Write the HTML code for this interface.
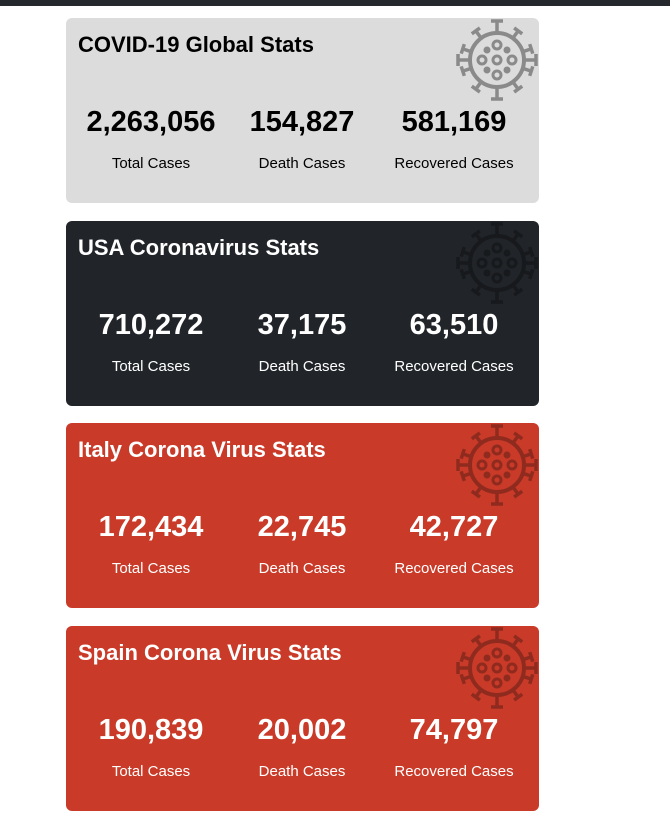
<!DOCTYPE html>
<html><head><meta charset="utf-8"><style>
body{margin:0;width:670px;height:819px;background:#fff;font-family:"Liberation Sans",sans-serif;position:relative;overflow:hidden}
.bar{position:absolute;left:0;top:0;width:670px;height:6px;background:#25282c}
.card{position:absolute;left:66px;width:473px;height:185px;border-radius:6px;overflow:hidden}
.t{position:absolute;left:12px;top:14px;font-size:22px;font-weight:bold}
.ic{position:absolute;left:388px;top:0}
.n{position:absolute;top:88px;width:160px;margin-left:-80px;text-align:center;font-size:29px;font-weight:bold}
.l{position:absolute;top:137px;width:160px;margin-left:-80px;text-align:center;font-size:15px}
</style></head><body>
<div class="bar"></div>
<svg width="0" height="0" style="position:absolute"><defs>
<g id="virus">
<circle cx="43" cy="42" r="27" fill="none" stroke-width="4"/>
<circle cx="43" cy="42" r="4" fill="none" stroke-width="3"/>
<circle cx="43" cy="27" r="4" fill="none" stroke-width="3"/>
<circle cx="43" cy="57" r="4" fill="none" stroke-width="3"/>
<circle cx="28" cy="42" r="4" fill="none" stroke-width="3"/>
<circle cx="58" cy="42" r="4" fill="none" stroke-width="3"/>
<circle cx="33" cy="32" r="3.5" stroke="none"/><circle cx="53" cy="32" r="3.5" stroke="none"/>
<circle cx="33" cy="52" r="3.5" stroke="none"/><circle cx="53" cy="52" r="3.5" stroke="none"/>
<g stroke-width="3.5">
<path d="M43 15V3M37 3H49" transform="rotate(0 43 42)"/>
<path d="M43 15V6M38 6H48" transform="rotate(36 43 42)"/>
<path d="M43 15V6M38 6H48" transform="rotate(72 43 42)"/>
<path d="M43 15V3M37 3H49" transform="rotate(90 43 42)"/>
<path d="M43 15V6M38 6H48" transform="rotate(108 43 42)"/>
<path d="M43 15V6M38 6H48" transform="rotate(144 43 42)"/>
<path d="M43 15V3M37 3H49" transform="rotate(180 43 42)"/>
<path d="M43 15V6M38 6H48" transform="rotate(216 43 42)"/>
<path d="M43 15V6M38 6H48" transform="rotate(252 43 42)"/>
<path d="M43 15V3M37 3H49" transform="rotate(270 43 42)"/>
<path d="M43 15V6M38 6H48" transform="rotate(288 43 42)"/>
<path d="M43 15V6M38 6H48" transform="rotate(324 43 42)"/>
</g></g></defs></svg>

<div class="card" style="top:18px;background:#dcdcdc;color:#000">
<svg class="ic" width="86" height="86"><use href="#virus" stroke="#8a8a8a" fill="#8a8a8a"/></svg>
<div class="t">COVID-19 Global Stats</div>
<div class="n" style="left:85px">2,263,056</div>
<div class="n" style="left:236px">154,827</div>
<div class="n" style="left:388px">581,169</div>
<div class="l" style="left:85px">Total Cases</div>
<div class="l" style="left:236px">Death Cases</div>
<div class="l" style="left:388px">Recovered Cases</div>
</div>

<div class="card" style="top:221px;background:#212529;color:#fff">
<svg class="ic" width="86" height="86"><use href="#virus" stroke="#17191c" fill="#17191c"/></svg>
<div class="t">USA Coronavirus Stats</div>
<div class="n" style="left:85px">710,272</div>
<div class="n" style="left:236px">37,175</div>
<div class="n" style="left:388px">63,510</div>
<div class="l" style="left:85px">Total Cases</div>
<div class="l" style="left:236px">Death Cases</div>
<div class="l" style="left:388px">Recovered Cases</div>
</div>

<div class="card" style="top:423px;background:#c93a28;color:#fff">
<svg class="ic" width="86" height="86"><use href="#virus" stroke="#8f2b1e" fill="#8f2b1e"/></svg>
<div class="t">Italy Corona Virus Stats</div>
<div class="n" style="left:85px">172,434</div>
<div class="n" style="left:236px">22,745</div>
<div class="n" style="left:388px">42,727</div>
<div class="l" style="left:85px">Total Cases</div>
<div class="l" style="left:236px">Death Cases</div>
<div class="l" style="left:388px">Recovered Cases</div>
</div>

<div class="card" style="top:626px;background:#c93a28;color:#fff">
<svg class="ic" width="86" height="86"><use href="#virus" stroke="#8f2b1e" fill="#8f2b1e"/></svg>
<div class="t">Spain Corona Virus Stats</div>
<div class="n" style="left:85px">190,839</div>
<div class="n" style="left:236px">20,002</div>
<div class="n" style="left:388px">74,797</div>
<div class="l" style="left:85px">Total Cases</div>
<div class="l" style="left:236px">Death Cases</div>
<div class="l" style="left:388px">Recovered Cases</div>
</div>
</body></html>
